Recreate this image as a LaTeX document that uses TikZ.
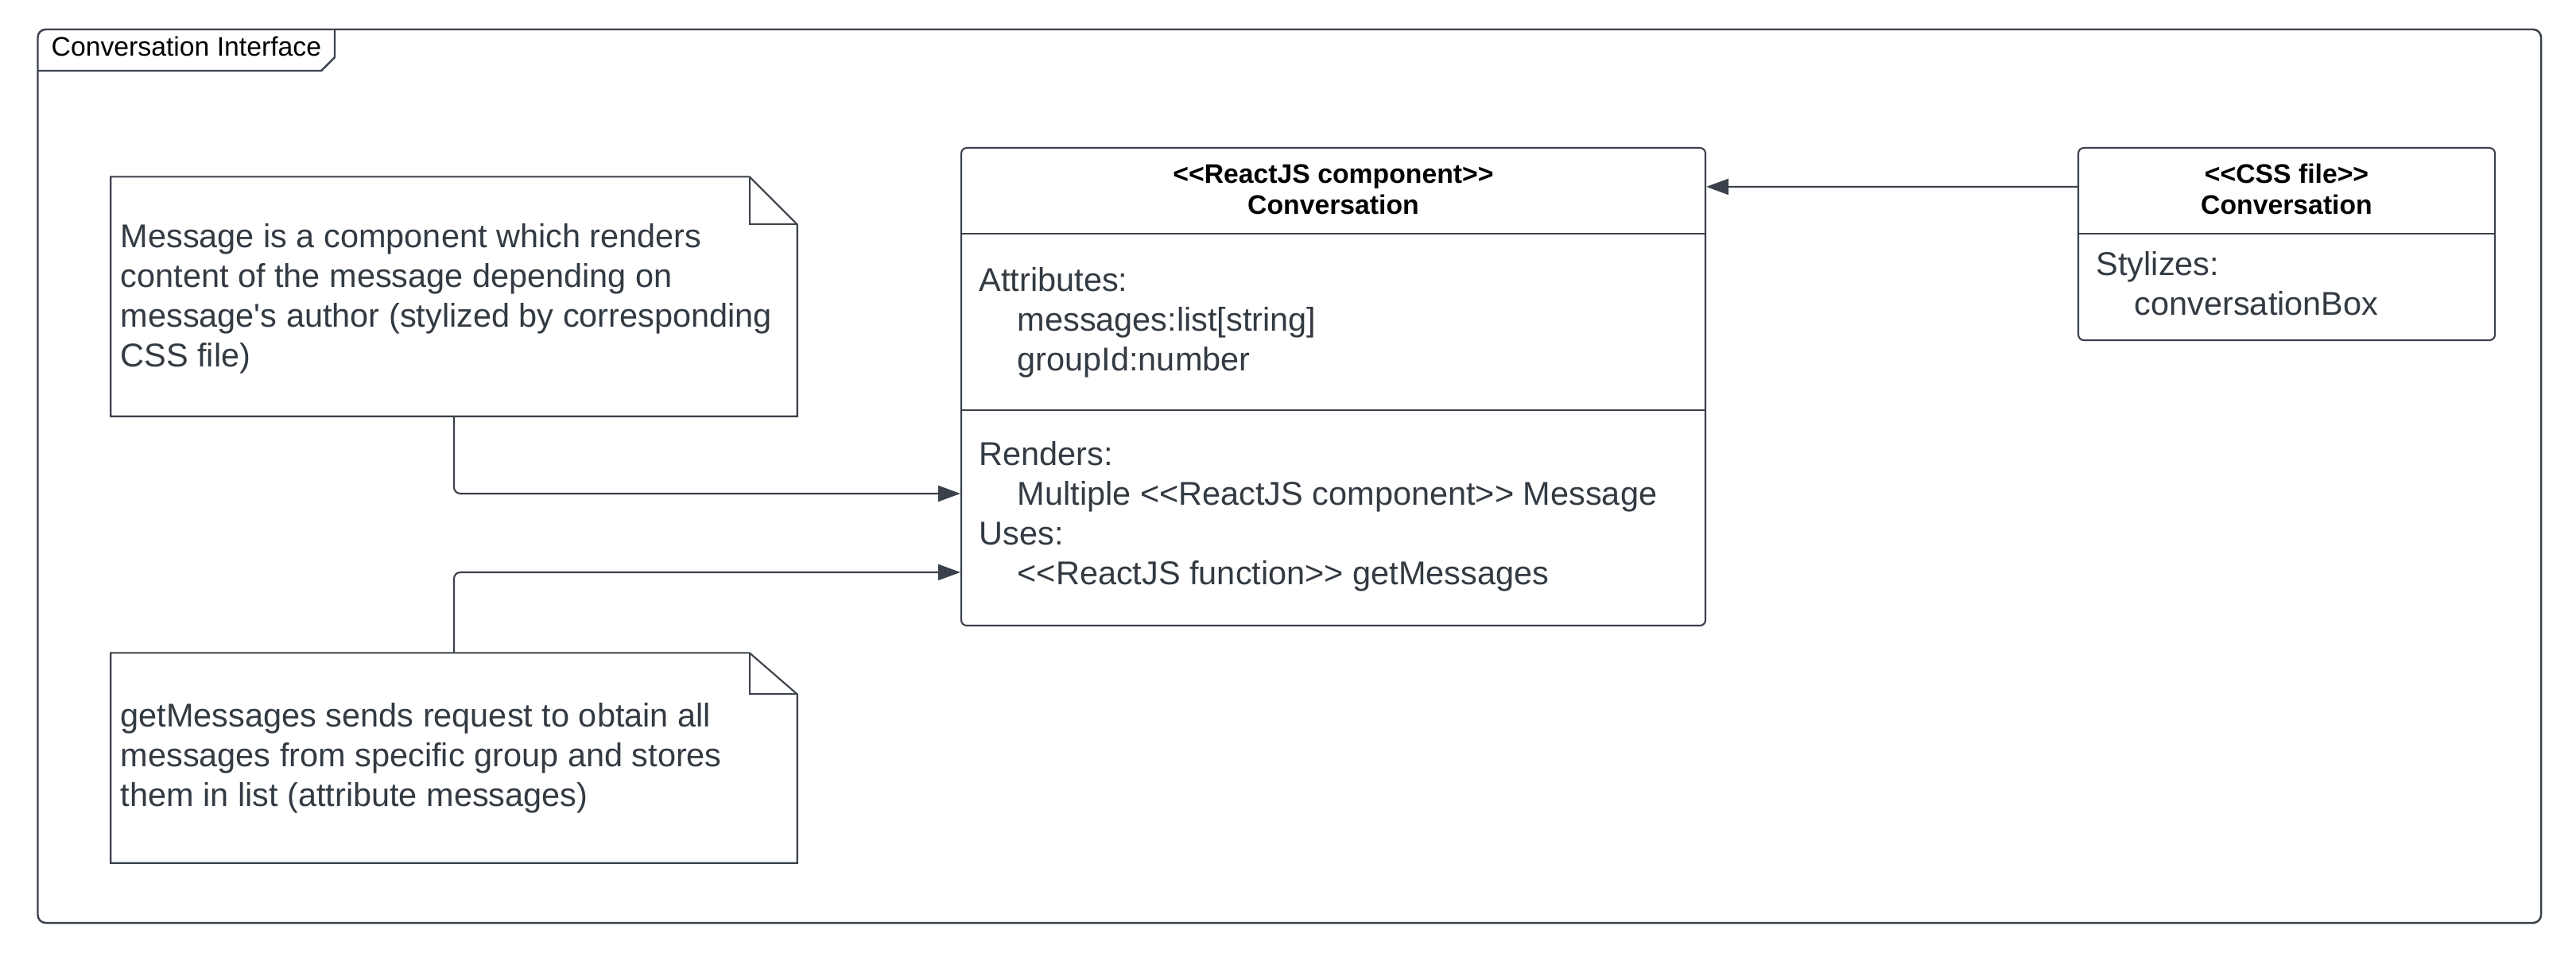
\documentclass[tikz,border=0pt]{standalone}
\usepackage{fontspec}
\setmainfont{Liberation Sans}[Ligatures=TeXOff]
\usetikzlibrary{arrows.meta,positioning}
\definecolor{umlline}{HTML}{3A414A}
\definecolor{umltext}{HTML}{333A42}
\tikzset{
  umlbox/.style={draw=umlline, line width=0.6pt, rounded corners=0.07cm, inner sep=0pt},
  notebox/.style={draw=none, inner sep=0pt},
  noteline/.style={draw=umlline, line width=0.6pt},
  headtxt/.style={font=\fontsize{9.6}{11.1}\selectfont\bfseries, align=center, text=black, inner sep=0pt},
  bodytxt/.style={font=\fontsize{11.8}{14.2}\selectfont, align=left, text=umltext, inner sep=0pt, anchor=north west},
  arr/.style={draw=umlline, line width=0.6pt, -{Triangle[length=0.28cm,width=0.2cm]}, rounded corners=0.08cm},
}
\newcommand{\ind}{\hspace*{0.48cm}}
\begin{document}
\begin{tikzpicture}
  \useasboundingbox (0,0) rectangle (32.4,-12.08);
  % Frame with tab
  \draw[umlline, line width=0.7pt, rounded corners=0.1cm] (0.475,-0.37) rectangle (31.96,-11.61);
  \draw[umlline, line width=0.7pt] (0.475,-0.89) -- (4.04,-0.89) -- (4.21,-0.72) -- (4.21,-0.37);
  \node (tab)[anchor=west, inner sep=0pt, font=\fontsize{9.6}{11}\selectfont] at (0.64,-0.58) {Conversation Interface};

  % ReactJS component
  \node (reactbox)[umlbox, minimum width=9.36cm, minimum height=6.01cm] at (16.77,-4.865) {};
  \draw[umlline, line width=0.6pt] ([yshift=-1.09cm]reactbox.north west) -- ([yshift=-1.09cm]reactbox.north east);
  \draw[umlline, line width=0.6pt] ([yshift=-3.31cm]reactbox.north west) -- ([yshift=-3.31cm]reactbox.north east);
  \node (reacthead)[headtxt] at ([yshift=-0.53cm]reactbox.north) {<<ReactJS component>>\\Conversation};
  \node (attrs)[bodytxt] at (12.31,-3.36) {Attributes:\\\ind messages:list[string]\\\ind groupId:number};
  \node (renders)[bodytxt] at (12.31,-5.55) {Renders:\\\ind Multiple <<ReactJS component>> Message\\Uses:\\\ind <<ReactJS function>> getMessages};
  \coordinate (rendin) at ([yshift=-4.36cm]reactbox.north west);
  \coordinate (usesin) at ([yshift=-5.35cm]reactbox.north west);

  % CSS file
  \node (cssbox)[umlbox, minimum width=5.24cm, minimum height=2.42cm] at (28.76,-3.07) {};
  \draw[umlline, line width=0.6pt] ([yshift=-1.09cm]cssbox.north west) -- ([yshift=-1.09cm]cssbox.north east);
  \node (csshead)[headtxt] at ([yshift=-0.53cm]cssbox.north) {<<CSS file>>\\Conversation};
  \node (stylizes)[bodytxt] at (26.36,-3.16) {Stylizes:\\\ind conversationBox};

  % Notes
  \node (msgnote)[notebox, minimum width=8.62cm, minimum height=3.00cm] at (5.71,-3.73) {};
  \draw[noteline] (msgnote.north west) -- ([xshift=-0.6cm]msgnote.north east) -- ([yshift=-0.6cm]msgnote.north east)
    -- (msgnote.south east) -- (msgnote.south west) -- cycle;
  \draw[noteline] ([xshift=-0.6cm]msgnote.north east) |- ([yshift=-0.6cm]msgnote.north east);
  \node (msgtxt)[bodytxt] at (1.51,-2.81) {Message is a component which renders\\content of the message depending on\\message's author (stylized by corresponding\\CSS file)};

  \node (getnote)[notebox, minimum width=8.62cm, minimum height=2.63cm] at (5.71,-9.535) {};
  \draw[noteline] (getnote.north west) -- ([xshift=-0.6cm]getnote.north east) -- ([yshift=-0.52cm]getnote.north east)
    -- (getnote.south east) -- (getnote.south west) -- cycle;
  \draw[noteline] ([xshift=-0.6cm]getnote.north east) |- ([yshift=-0.52cm]getnote.north east);
  \node (gettxt)[bodytxt] at (1.51,-8.84) {getMessages sends request to obtain all\\messages from specific group and stores\\them in list (attribute messages)};

  % Connectors
  \draw[arr] ([yshift=-0.5cm]cssbox.north west) -- ([yshift=-0.5cm]reactbox.north east);
  \draw[arr] (msgnote.south) |- (rendin);
  \draw[arr] (getnote.north) |- (usesin);
\end{tikzpicture}
\end{document}
